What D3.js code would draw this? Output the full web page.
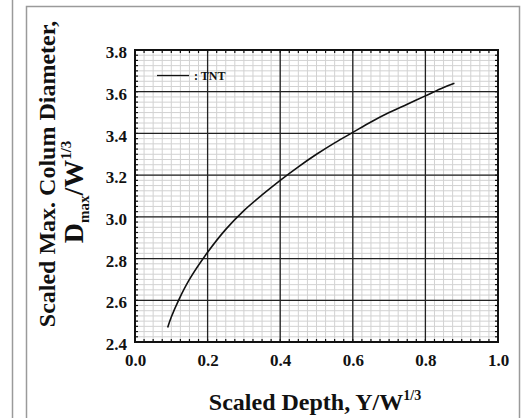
<!DOCTYPE html>
<html>
<head>
<meta charset="utf-8">
<script src="https://cdn.jsdelivr.net/npm/d3@7"></script>
<style>
  html, body { margin: 0; padding: 0; background: #fff; }
  svg { display: block; }
  text { font-family: "Liberation Serif", "Times New Roman", serif; font-weight: bold; fill: #111; }
</style>
</head>
<body>
<svg id="chart" width="526" height="418"></svg>
<script>
// Scaled depth (Y/W^1/3) and scaled max. column diameter (Dmax/W^1/3) for TNT
const depth    = [0.09, 0.10, 0.12, 0.15, 0.20, 0.25, 0.30, 0.35, 0.40, 0.45, 0.50, 0.55, 0.60, 0.65, 0.70, 0.75, 0.80, 0.85, 0.88];
const diameter = [2.47, 2.52, 2.60, 2.70, 2.83, 2.94, 3.03, 3.105, 3.175, 3.24, 3.30, 3.355, 3.405, 3.455, 3.50, 3.54, 3.58, 3.62, 3.64];
const xTicks = [0.0, 0.2, 0.4, 0.6, 0.8, 1.0];
const yTicks = [2.4, 2.6, 2.8, 3.0, 3.2, 3.4, 3.6, 3.8];
const seriesName = ": TNT";

const svg = d3.select("#chart");
const W = 526, H = 418;
const plot = { left: 135, right: 498, top: 50, bottom: 342 };

// outer panel frame
svg.append("line").attr("x1", 12.5).attr("x2", 12.5).attr("y1", 0).attr("y2", H)
  .attr("stroke", "#9a9a9a").attr("stroke-width", 1.5);
svg.append("path")
  .attr("d", `M26.5,${H} V6.5 H519.5 V${H}`)
  .attr("fill", "none").attr("stroke", "#9a9a9a").attr("stroke-width", 1.5);

const x = d3.scaleLinear().domain([0, 1]).range([plot.left, plot.right]);
const y = d3.scaleLinear().domain([2.4, 3.8]).range([plot.bottom, plot.top]);

// minor grid
const xMinor = d3.range(0, 1.0001, 0.025);
const yMinor = d3.range(2.4, 3.8001, 0.025);
const g = svg.append("g");
g.selectAll(".vminor").data(xMinor).join("line")
  .attr("x1", d => x(d)).attr("x2", d => x(d))
  .attr("y1", plot.top).attr("y2", plot.bottom)
  .attr("stroke", "#d2d2d2").attr("stroke-width", 1);
g.selectAll(".hminor").data(yMinor).join("line")
  .attr("x1", plot.left).attr("x2", plot.right)
  .attr("y1", d => y(d)).attr("y2", d => y(d))
  .attr("stroke", "#d2d2d2").attr("stroke-width", 1);

// major grid
g.selectAll(".vmajor").data(xTicks).join("line")
  .attr("x1", d => x(d)).attr("x2", d => x(d))
  .attr("y1", plot.top).attr("y2", plot.bottom)
  .attr("stroke", "#222").attr("stroke-width", 1.3);
g.selectAll(".hmajor").data(yTicks).join("line")
  .attr("x1", plot.left).attr("x2", plot.right)
  .attr("y1", d => y(d)).attr("y2", d => y(d))
  .attr("stroke", "#222").attr("stroke-width", 1.3);

// inward minor ticks on all four sides
const tl = 3;
const ticks = svg.append("g").attr("stroke", "#111").attr("stroke-width", 1.2);
xMinor.forEach(d => {
  ticks.append("line").attr("x1", x(d)).attr("x2", x(d)).attr("y1", plot.bottom).attr("y2", plot.bottom - tl);
  ticks.append("line").attr("x1", x(d)).attr("x2", x(d)).attr("y1", plot.top).attr("y2", plot.top + tl);
});
yMinor.forEach(d => {
  ticks.append("line").attr("y1", y(d)).attr("y2", y(d)).attr("x1", plot.left).attr("x2", plot.left + tl);
  ticks.append("line").attr("y1", y(d)).attr("y2", y(d)).attr("x1", plot.right).attr("x2", plot.right - tl);
});

// plot frame
svg.append("rect")
  .attr("x", plot.left).attr("y", plot.top)
  .attr("width", plot.right - plot.left).attr("height", plot.bottom - plot.top)
  .attr("fill", "none").attr("stroke", "#111").attr("stroke-width", 2);

// tick labels via d3 axes (axis lines hidden, only text kept)
const xAxis = svg.append("g").attr("transform", `translate(0,${plot.bottom})`)
  .call(d3.axisBottom(x).tickValues(xTicks).tickFormat(d3.format(".1f")).tickSize(0).tickPadding(12));
xAxis.select(".domain").remove();
xAxis.selectAll("text").attr("font-size", 17).style("font-family", "Liberation Serif").style("font-weight", "bold").attr("fill", "#111");

const yAxis = svg.append("g").attr("transform", `translate(${plot.left},0)`)
  .call(d3.axisLeft(y).tickValues(yTicks).tickFormat(d3.format(".1f")).tickSize(0).tickPadding(8));
yAxis.select(".domain").remove();
yAxis.selectAll("text").attr("font-size", 17).style("font-family", "Liberation Serif").style("font-weight", "bold").attr("fill", "#111").attr("dy", "0.45em");

// curve
const line = d3.line().x((d, i) => x(depth[i])).y(d => y(d)).curve(d3.curveCatmullRom);
svg.append("path").datum(diameter).attr("d", line)
  .attr("fill", "none").attr("stroke", "#111").attr("stroke-width", 1.6);

// legend
svg.append("line").attr("x1", 157).attr("x2", 189).attr("y1", 75.5).attr("y2", 75.5)
  .attr("stroke", "#111").attr("stroke-width", 1.3);
svg.append("text").attr("x", 194).attr("y", 79.5).attr("font-size", 12).text(seriesName);

// x title
const xt = svg.append("text").attr("x", 315).attr("y", 410).attr("text-anchor", "middle").attr("font-size", 24);
xt.append("tspan").text("Scaled Depth, Y/W");
xt.append("tspan").attr("font-size", 14).attr("dy", -10).text("1/3");

// y title, two lines
svg.append("text").attr("transform", "translate(55,174) rotate(-90)")
  .attr("text-anchor", "middle").attr("font-size", 24).text("Scaled Max. Colum Diameter,");
const yt = svg.append("text").attr("transform", "translate(83,192) rotate(-90)")
  .attr("text-anchor", "middle").attr("font-size", 28);
yt.append("tspan").text("D");
yt.append("tspan").attr("font-size", 15).attr("dy", 6).text("max");
yt.append("tspan").attr("dy", -6).text("/W");
yt.append("tspan").attr("font-size", 15).attr("dy", -12).text("1/3");
</script>
</body>
</html>
